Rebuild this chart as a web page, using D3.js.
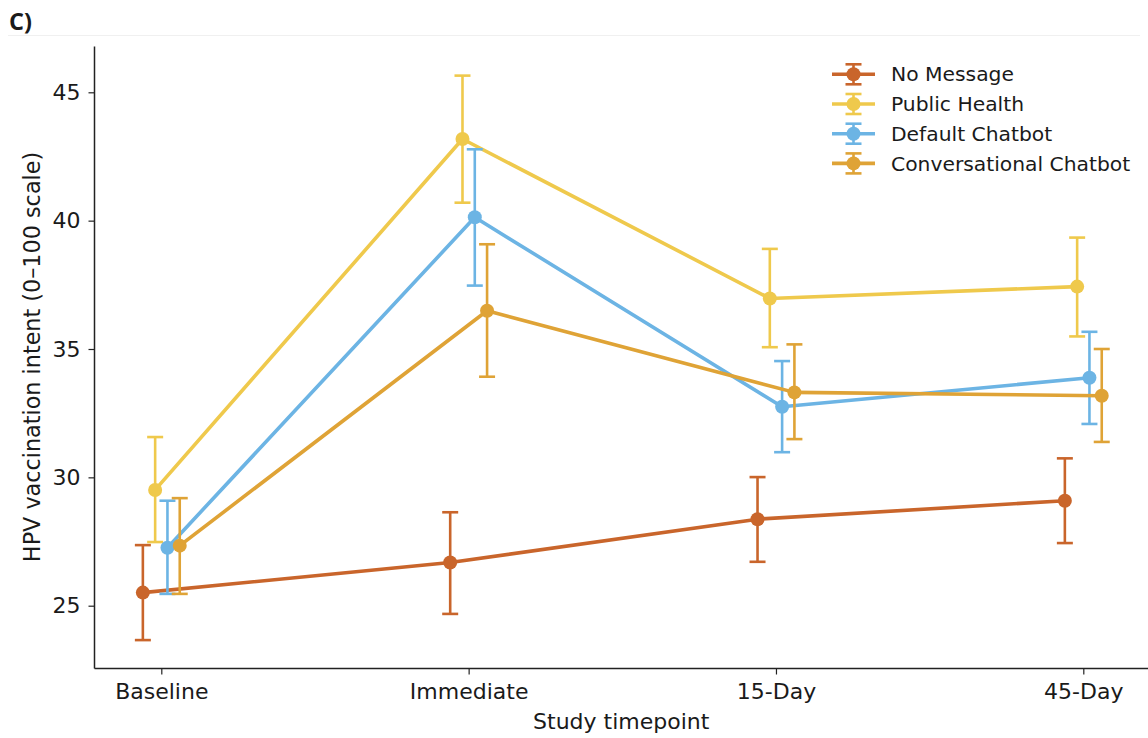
<!DOCTYPE html>
<html>
<head>
<meta charset="utf-8">
<script src="https://cdn.jsdelivr.net/npm/d3@7"></script>
<style>
  html, body { margin: 0; padding: 0; background: #fff; }
  svg { display: block; }
  text { font-family: "DejaVu Sans", sans-serif; fill: #1a1a1a; }
</style>
</head>
<body>
<svg id="chart" width="1148" height="738"></svg>
<script>
const timepoints = ["Baseline", "Immediate", "15-Day", "45-Day"];
const seriesNames = ["No Message", "Public Health", "Default Chatbot", "Conversational Chatbot"];
const seriesColors = ["#c9652b", "#efc94c", "#6cb4e4", "#dfa336"];
const dodge = [-0.06, -0.02, 0.02, 0.06];

const noMessageMean = [25.51, 26.68, 28.37, 29.09];
const noMessageLow  = [23.66, 24.68, 26.71, 27.44];
const noMessageHigh = [27.36, 28.64, 30.01, 30.74];

const publicHealthMean = [29.51, 43.18, 36.97, 37.43];
const publicHealthLow  = [27.48, 40.70, 35.07, 35.49];
const publicHealthHigh = [31.57, 45.65, 38.90, 39.34];

const defaultChatbotMean = [27.26, 40.13, 32.75, 33.88];
const defaultChatbotLow  = [25.46, 37.47, 30.98, 32.08];
const defaultChatbotHigh = [29.09, 42.78, 34.53, 35.67];

const convChatbotMean = [27.34, 36.49, 33.31, 33.18];
const convChatbotLow  = [25.46, 33.92, 31.49, 31.38];
const convChatbotHigh = [29.19, 39.08, 35.18, 35.00];

const yTicks = [25, 30, 35, 40, 45];

const series = [
  {mean: noMessageMean, low: noMessageLow, high: noMessageHigh},
  {mean: publicHealthMean, low: publicHealthLow, high: publicHealthHigh},
  {mean: defaultChatbotMean, low: defaultChatbotLow, high: defaultChatbotHigh},
  {mean: convChatbotMean, low: convChatbotLow, high: convChatbotHigh}
].map((s, i) => ({...s, name: seriesNames[i], color: seriesColors[i], dodge: dodge[i]}));

const svg = d3.select("#chart");

const plotLeft = 94.5, plotRight = 1148, plotTop = 46.5, plotBottom = 668.5;
const x = d3.scaleLinear().domain([0, 3]).range([161.3, 1083.3]);
const y = d3.scaleLinear().domain([25, 45]).range([605.7, 92.3]);

// panel label and faint separator
svg.append("line").attr("x1", 8).attr("x2", 1140).attr("y1", 35.5).attr("y2", 35.5)
  .attr("stroke", "#f0f0f0").attr("stroke-width", 1);
svg.append("text").attr("x", 9).attr("y", 30)
  .style("font-family", "'Open Sans', sans-serif").style("font-weight", "bold")
  .style("font-size", "23.5px").text("C)");

// axes
const yAxis = d3.axisLeft(y).tickValues(yTicks).tickSize(6).tickPadding(8).tickFormat(d3.format("d"));
const gy = svg.append("g").attr("transform", `translate(${plotLeft},0)`).call(yAxis);
gy.select(".domain").remove();
gy.append("line").attr("x1", 0).attr("x2", 0).attr("y1", plotTop).attr("y2", plotBottom)
  .attr("stroke", "#222").attr("stroke-width", 1.5);
gy.selectAll(".tick line").attr("stroke", "#222").attr("stroke-width", 1.2);
gy.selectAll(".tick text").style("font-size", "22px").attr("fill", "#1a1a1a");

const xAxis = d3.axisBottom(x).tickValues([0, 1, 2, 3]).tickSize(6).tickPadding(9)
  .tickFormat(i => timepoints[i]);
const gx = svg.append("g").attr("transform", `translate(0,${plotBottom})`).call(xAxis);
gx.select(".domain").remove();
gx.append("line").attr("x1", plotLeft).attr("x2", plotRight).attr("y1", 0).attr("y2", 0)
  .attr("stroke", "#222").attr("stroke-width", 1.5);
gx.selectAll(".tick line").attr("stroke", "#222").attr("stroke-width", 1.2);
gx.selectAll(".tick text").style("font-size", "22px").attr("fill", "#1a1a1a");

svg.append("text").attr("x", (plotLeft + plotRight) / 2).attr("y", 729)
  .attr("text-anchor", "middle").style("font-size", "22px").text("Study timepoint");
svg.append("text").attr("transform", "translate(40,357) rotate(-90)")
  .attr("text-anchor", "middle").style("font-size", "22.3px")
  .text("HPV vaccination intent (0–100 scale)");

// series
const cap = 8;
const line = d3.line().x(d => x(d.i + d.dodge)).y(d => y(d.v));
series.forEach(s => {
  const pts = s.mean.map((v, i) => ({i, v, lo: s.low[i], hi: s.high[i], dodge: s.dodge}));
  const g = svg.append("g");
  g.append("path").datum(pts).attr("d", line).attr("fill", "none")
    .attr("stroke", s.color).attr("stroke-width", 3.6).attr("stroke-linejoin", "round");
  const eb = g.selectAll(".eb").data(pts).enter().append("g");
  eb.append("line").attr("x1", d => x(d.i + d.dodge)).attr("x2", d => x(d.i + d.dodge))
    .attr("y1", d => y(d.lo)).attr("y2", d => y(d.hi))
    .attr("stroke", s.color).attr("stroke-width", 2.6);
  ["lo", "hi"].forEach(k => {
    eb.append("line").attr("x1", d => x(d.i + d.dodge) - cap).attr("x2", d => x(d.i + d.dodge) + cap)
      .attr("y1", d => y(d[k])).attr("y2", d => y(d[k]))
      .attr("stroke", s.color).attr("stroke-width", 2.6);
  });
  g.selectAll(".pt").data(pts).enter().append("circle")
    .attr("cx", d => x(d.i + d.dodge)).attr("cy", d => y(d.v)).attr("r", 7)
    .attr("fill", s.color);
});

// legend
const legend = svg.append("g");
series.forEach((s, i) => {
  const cy = 74.3 + i * 29.7;
  const g = legend.append("g");
  g.append("line").attr("x1", 832).attr("x2", 875).attr("y1", cy).attr("y2", cy)
    .attr("stroke", s.color).attr("stroke-width", 3.6);
  g.append("line").attr("x1", 853.5).attr("x2", 853.5).attr("y1", cy - 10).attr("y2", cy + 10)
    .attr("stroke", s.color).attr("stroke-width", 2.6);
  [-10, 10].forEach(o => g.append("line").attr("x1", 845.5).attr("x2", 861.5)
    .attr("y1", cy + o).attr("y2", cy + o).attr("stroke", s.color).attr("stroke-width", 2.6));
  g.append("circle").attr("cx", 853.5).attr("cy", cy).attr("r", 7).attr("fill", s.color);
  g.append("text").attr("x", 891).attr("y", cy).attr("dy", "0.35em")
    .style("font-size", "20.3px").text(s.name);
});
</script>
</body>
</html>
